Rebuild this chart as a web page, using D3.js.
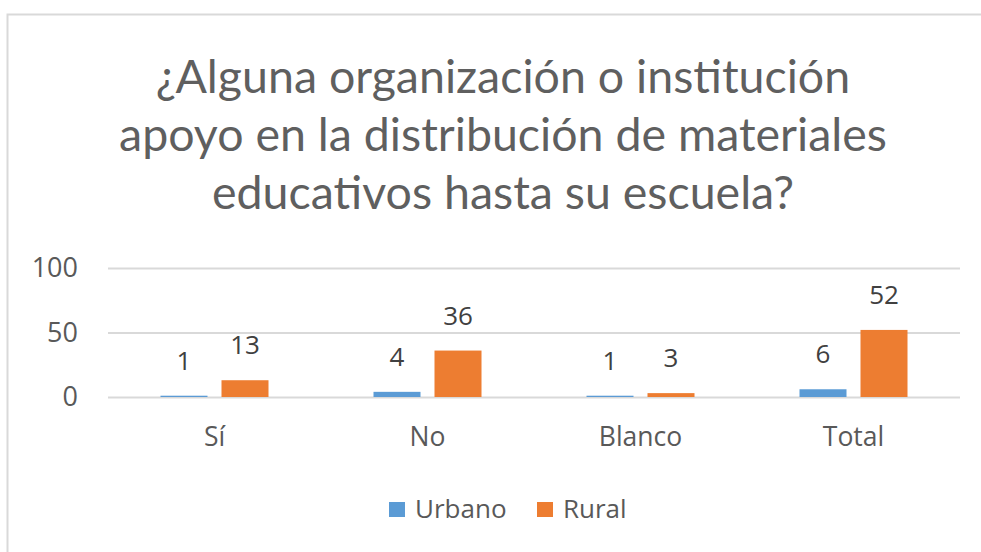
<!DOCTYPE html>
<html>
<head>
<meta charset="utf-8">
<script src="https://cdn.jsdelivr.net/npm/d3@7"></script>
<style>
  body { margin: 0; background: #fff; }
  text { fill: #595959; }
</style>
</head>
<body>
<div id="chart-area"></div>
<script>
// data
var categories = ["Sí", "No", "Blanco", "Total"];
var series = ["Urbano", "Rural"];
var urbano = [1, 4, 1, 6];
var rural = [13, 36, 3, 52];
var yTicks = [0, 50, 100];
var titleLines = ["¿Alguna organización o institución",
                  "apoyo en la distribución de materiales",
                  "educativos hasta su escuela?"];

var width = 981, height = 552;
var colors = { Urbano: "#5B9BD5", Rural: "#ED7D31" };
var font = "'Open Sans', sans-serif";

var svg = d3.select("#chart-area")
    .append("svg")
        .attr("width", width)
        .attr("height", height);

// chart border
svg.append("rect")
    .attr("x", 7.5)
    .attr("y", 14.5)
    .attr("width", 990)
    .attr("height", 560)
    .attr("fill", "#fff")
    .attr("stroke", "#d9d9d9")
    .attr("stroke-width", 2);

// title
titleLines.forEach(function(t, i) {
    svg.append("text")
        .attr("x", 503)
        .attr("y", 93 + i * 58)
        .attr("text-anchor", "middle")
        .attr("font-family", "Lato, sans-serif")
        .attr("font-size", "46.5px")
        .style("fill", "#5f5f5f")
        .text(t);
});

// scales
var x0 = d3.scaleBand()
    .domain(categories)
    .range([108, 960]);

var y = d3.scaleLinear()
    .domain([0, 100])
    .range([397, 268]);

// gridlines + y labels
var yAxis = svg.append("g")
    .attr("transform", "translate(108,0)")
    .call(d3.axisLeft(y).tickValues(yTicks).tickSize(-852).tickPadding(30));
yAxis.select(".domain").remove();
yAxis.selectAll(".tick line").attr("stroke", "#d9d9d9").attr("stroke-width", 2);
yAxis.selectAll(".tick text")
    .attr("font-family", font)
    .attr("font-size", "27px")
    .attr("fill", "#595959");

// x labels
var xAxis = svg.append("g")
    .attr("transform", "translate(0,397)")
    .call(d3.axisBottom(x0).tickSize(0).tickPadding(30));
xAxis.select(".domain").remove();
xAxis.selectAll(".tick text")
    .attr("font-family", font)
    .attr("font-size", "26.5px")
    .attr("fill", "#595959");

// bars
var barW = 47, offset = 30.5;
var rows = categories.map(function(c, i) {
    return [{ cat: c, s: "Urbano", v: urbano[i] }, { cat: c, s: "Rural", v: rural[i] }];
});
var flat = [].concat.apply([], rows);

function cx(d) {
    return x0(d.cat) + x0.bandwidth() / 2 + (d.s == "Urbano" ? -offset : offset);
}

svg.selectAll("rect.bar")
    .data(flat)
    .enter().append("rect")
    .attr("class", "bar")
    .attr("x", function(d) { return cx(d) - barW / 2; })
    .attr("y", function(d) { return y(d.v); })
    .attr("width", barW)
    .attr("height", function(d) { return y(0) - y(d.v); })
    .attr("fill", function(d) { return colors[d.s]; });

svg.selectAll("text.lbl")
    .data(flat)
    .enter().append("text")
    .attr("class", "lbl")
    .attr("x", function(d) { return cx(d); })
    .attr("y", function(d) { return y(d.v) - 26; })
    .attr("text-anchor", "middle")
    .attr("font-family", font)
    .attr("font-size", "26px")
    .style("fill", "#404040")
    .text(function(d) { return d.v; });

// legend
var legendX = [389, 537];
series.forEach(function(s, i) {
    var lg = svg.append("g").attr("transform", "translate(" + legendX[i] + ",502)");
    lg.append("rect")
        .attr("width", 16)
        .attr("height", 15)
        .attr("fill", colors[s]);
    lg.append("text")
        .attr("x", 26)
        .attr("y", 16)
        .attr("font-family", font)
        .attr("font-size", "26px")
        .text(s);
});
</script>
</body>
</html>
